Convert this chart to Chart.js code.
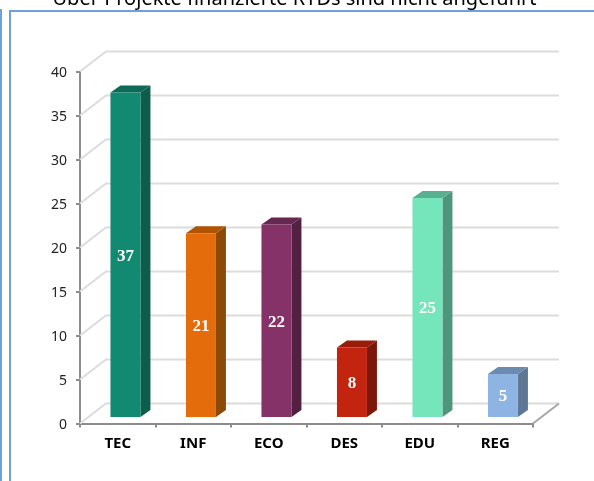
<!DOCTYPE html>
<html>
<head>
<meta charset="utf-8">
<style>
html, body { margin: 0; padding: 0; background: #fff; overflow: hidden; }
#wrap { position: relative; width: 594px; height: 481px; }
canvas { position: absolute; left: 0; top: 0; }
.frame { position: absolute; background: #6f9fdc; }
</style>
<script src="https://cdn.jsdelivr.net/npm/chart.js@4"></script>
</head>
<body>
<div id="wrap">
  <div class="frame" style="left:0;top:9px;width:2px;height:472px"></div>
  <div class="frame" style="left:9px;top:10px;width:2px;height:471px"></div>
  <div class="frame" style="left:9px;top:10px;width:585px;height:2px"></div>
  <canvas id="c" width="594" height="481"></canvas>
</div>
<script>
const titleText = "Über Projekte finanzierte RTDs sind nicht angeführt";
const categories = ["TEC", "INF", "ECO", "DES", "EDU", "REG"];
const values = [37, 21, 22, 8, 25, 5];
const yTicks = [0, 5, 10, 15, 20, 25, 30, 35, 40];
const frontColors = ["#128a72", "#e46c0a", "#843268", "#c3240f", "#75e5bc", "#8db4e2"];
const sideColors = ["#0c5d4c", "#8c4a07", "#522040", "#7e170b", "#4d967b", "#5d7795"];
const topColors = ["#0e6a58", "#b05404", "#672750", "#9a1c0b", "#58b090", "#6d8bb0"];

// fake 3d: wall depth and where the bars sit inside the floor
const wallDx = 26, wallDy = -20;
const barDx = 7.7, barDy = -5.5;
const sideDx = 10, sideDy = -7;

const wall = {
  id: 'wall',
  beforeDatasetsDraw(chart) {
    const { ctx, scales: { x, y } } = chart;
    ctx.save();
    ctx.strokeStyle = '#dcdcdc';
    ctx.lineWidth = 2;
    yTicks.forEach(v => {
      const py = y.getPixelForValue(v);
      ctx.beginPath();
      ctx.moveTo(x.left, py);
      ctx.lineTo(x.left + wallDx, py + wallDy);
      ctx.lineTo(x.right + wallDx, py + wallDy);
      ctx.stroke();
    });
    // right edge of the floor
    const y0 = y.getPixelForValue(0);
    ctx.strokeStyle = '#a6a6a6';
    ctx.beginPath();
    ctx.moveTo(x.right, y0);
    ctx.lineTo(x.right + wallDx, y0 + wallDy);
    ctx.stroke();
    ctx.restore();
    // bars are shifted back into the depth of the floor
    ctx.save();
    ctx.translate(barDx, barDy);
    chart.getDatasetMeta(0).data.forEach((bar, i) => {
      const l = bar.x - bar.width / 2, r = bar.x + bar.width / 2;
      ctx.fillStyle = sideColors[i];
      ctx.beginPath();
      ctx.moveTo(r, bar.y);
      ctx.lineTo(r + sideDx, bar.y + sideDy);
      ctx.lineTo(r + sideDx, bar.base + sideDy);
      ctx.lineTo(r, bar.base);
      ctx.closePath();
      ctx.fill();
      ctx.fillStyle = topColors[i];
      ctx.beginPath();
      ctx.moveTo(l, bar.y);
      ctx.lineTo(l + sideDx, bar.y + sideDy);
      ctx.lineTo(r + sideDx, bar.y + sideDy);
      ctx.lineTo(r, bar.y);
      ctx.closePath();
      ctx.fill();
    });
  },
  afterDatasetsDraw(chart) {
    const { ctx } = chart;
    ctx.font = 'bold 17px "Liberation Serif"';
    ctx.fillStyle = '#fff';
    ctx.textAlign = 'center';
    ctx.textBaseline = 'middle';
    chart.getDatasetMeta(0).data.forEach((bar, i) => {
      ctx.fillText(String(values[i]), bar.x, (bar.y + bar.base) / 2 + 1.5);
    });
    ctx.restore();
  },
  afterLayout(chart) {
    // title hangs off the top of the picture
    chart.titleBlock.top = -13;
    chart.titleBlock.left = 0;
    chart.titleBlock.right = 589;
  }
};

new Chart(document.getElementById('c'), {
  type: 'bar',
  data: {
    labels: categories,
    datasets: [{ data: values, backgroundColor: frontColors, barPercentage: 0.397, categoryPercentage: 1 }]
  },
  options: {
    responsive: false,
    animation: false,
    layout: { padding: { top: 47.5, right: 61, left: 0, bottom: 0 } },
    plugins: {
      legend: { display: false },
      tooltip: { enabled: false },
      title: {
        display: true,
        text: titleText,
        color: '#000',
        padding: 0,
        font: { family: '"Noto Sans"', size: 20, weight: 'normal', lineHeight: 1.2 }
      }
    },
    scales: {
      x: {
        grid: { drawOnChartArea: false, drawTicks: true, tickLength: 4, color: '#8c8c8c', lineWidth: 2 },
        border: { color: '#8c8c8c', width: 2 },
        ticks: { color: '#000', padding: 7, maxRotation: 0, font: { family: '"Noto Sans"', size: 15, weight: 'bold' } },
        afterFit: s => { s.height = 57.5; }
      },
      y: {
        min: 0, max: 40,
        afterBuildTicks: s => { s.ticks = yTicks.map(v => ({ value: v })); },
        grid: { drawOnChartArea: false, drawTicks: true, tickLength: 4, color: '#8c8c8c', lineWidth: 2 },
        border: { color: '#8c8c8c', width: 2 },
        ticks: { color: '#222', padding: 9, labelOffset: 2, font: { family: '"Noto Sans"', size: 14 } },
        afterFit: s => { s.width = 80; }
      }
    }
  },
  plugins: [wall]
});
</script>
</body>
</html>
